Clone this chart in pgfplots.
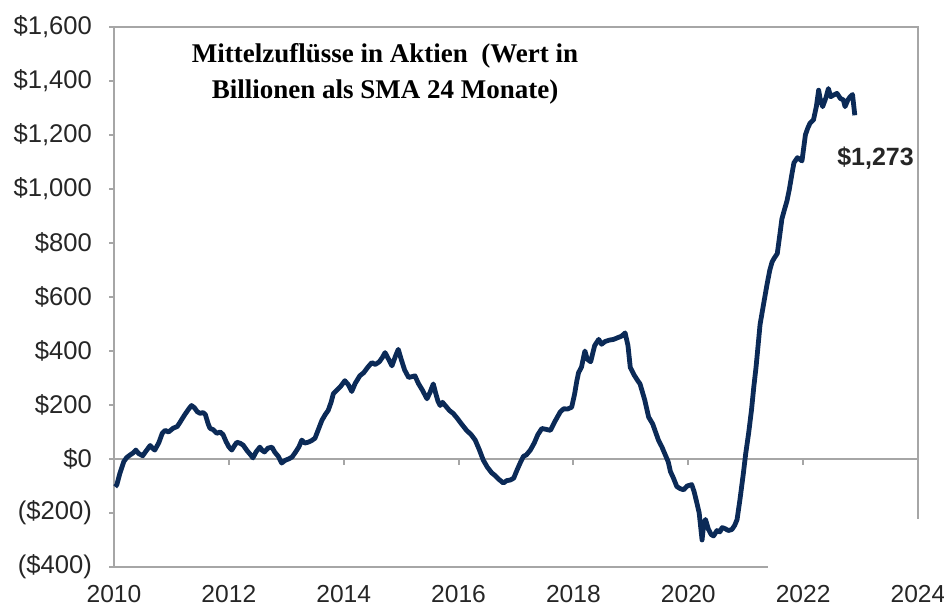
\documentclass[border=0pt]{standalone}
\usepackage{pgfplots}
\pgfplotsset{compat=1.18}
\usepackage{fontspec}
\setmainfont{Liberation Sans}
\newfontfamily\titlefont{Liberation Serif}
\definecolor{navy}{HTML}{0B2A57}
\definecolor{axgray}{HTML}{A6A6A6}
\definecolor{lblgray}{HTML}{262626}
\begin{document}
\begin{tikzpicture}
\begin{axis}[
  at={(0pt,0pt)}, anchor=south west,
  scale only axis, width=402pt, height=270pt,
  xmin=2010, xmax=2024, ymin=-400, ymax=1600,
  xtick={2010,2012,2014,2016,2018,2020,2022,2024},
  xticklabels={2010,2012,2014,2016,2018,2020,2022,2024},
  ytick={-400,-200,0,200,400,600,800,1000,1200,1400,1600},
  yticklabels={(\$400),(\$200),\$0,\$200,\$400,\$600,\$800,{\$1,000},{\$1,200},{\$1,400},{\$1,600}},
  axis line style={draw=axgray, line width=1pt},
  tick style={draw=axgray, line width=1pt},
  tickpos=left, tick align=outside, major tick length=2.5pt,
  xtick style={draw=none},
  ticklabel style={text=lblgray},
  yticklabel style={font=\fontsize{12.8}{15}\selectfont, xshift=-5pt},
  xticklabel style={font=\fontsize{12.3}{15}\selectfont, yshift=-3pt},
  clip=false,
]
\draw[axgray, line width=1pt] (axis cs:2010,0) -- (axis cs:2024,0);
\pgfplotsinvokeforeach{2012,2014,2016,2018,2020,2022,2024}{
  \draw[axgray, line width=1pt] (axis cs:#1,0) -- ++(0pt,-3pt);
}
\addplot[navy, line width=2.4pt, line join=round] coordinates {
(2010.02,-103) (2010.05,-95) (2010.10,-55) (2010.17,-10) (2010.22,5) (2010.28,15)
(2010.33,22) (2010.38,33) (2010.43,20) (2010.50,12) (2010.56,30) (2010.63,50)
(2010.67,40) (2010.71,33) (2010.78,60) (2010.84,95) (2010.89,106) (2010.95,100)
(2011.03,114) (2011.10,120) (2011.15,136) (2011.22,160) (2011.30,185) (2011.35,198)
(2011.40,190) (2011.45,175) (2011.50,169) (2011.55,172) (2011.59,165) (2011.64,130)
(2011.67,114) (2011.73,108) (2011.79,95) (2011.85,100) (2011.90,90) (2011.95,65)
(2012.00,45) (2012.05,33) (2012.10,50) (2012.14,62) (2012.20,58) (2012.25,51)
(2012.32,30) (2012.38,15) (2012.42,4) (2012.47,25) (2012.54,44) (2012.58,32)
(2012.62,26) (2012.68,40) (2012.75,44) (2012.80,25) (2012.86,10) (2012.92,-15)
(2012.98,-5) (2013.04,0) (2013.10,7) (2013.16,25) (2013.22,45) (2013.27,70)
(2013.32,59) (2013.38,62) (2013.44,68) (2013.50,77) (2013.56,110) (2013.62,143)
(2013.68,165) (2013.73,180) (2013.78,210) (2013.82,242) (2013.88,255) (2013.95,270)
(2014.02,290) (2014.08,275) (2014.14,250) (2014.20,280) (2014.28,308) (2014.35,320)
(2014.42,340) (2014.49,357) (2014.55,350) (2014.62,360) (2014.67,375) (2014.72,394)
(2014.78,370) (2014.84,345) (2014.90,380) (2014.95,406) (2015.00,370) (2015.06,330)
(2015.13,302) (2015.19,305) (2015.24,308) (2015.30,280) (2015.37,255) (2015.45,223)
(2015.50,245) (2015.56,278) (2015.60,245) (2015.64,215) (2015.68,198) (2015.72,210)
(2015.78,195) (2015.84,180) (2015.91,168) (2015.98,150) (2016.05,130) (2016.14,106)
(2016.22,90) (2016.29,70) (2016.36,35) (2016.43,-4) (2016.50,-30) (2016.58,-52)
(2016.63,-60) (2016.70,-75) (2016.78,-89) (2016.84,-80) (2016.90,-78) (2016.96,-71)
(2017.02,-40) (2017.07,-16) (2017.13,10) (2017.18,15) (2017.25,33) (2017.32,60)
(2017.38,90) (2017.45,113) (2017.52,110) (2017.60,106) (2017.68,140) (2017.77,174)
(2017.83,186) (2017.90,185) (2017.97,192) (2018.02,240) (2018.06,290) (2018.09,320)
(2018.14,340) (2018.20,400) (2018.24,370) (2018.30,360) (2018.37,420) (2018.44,443)
(2018.49,425) (2018.55,435) (2018.62,440) (2018.70,443) (2018.78,450) (2018.84,455)
(2018.90,467) (2018.95,420) (2018.99,339) (2019.06,310) (2019.12,290) (2019.16,278)
(2019.24,220) (2019.31,155) (2019.38,130) (2019.43,100) (2019.48,70) (2019.54,45)
(2019.60,15) (2019.65,-10) (2019.69,-47) (2019.74,-70) (2019.80,-102) (2019.86,-110)
(2019.92,-114) (2019.98,-100) (2020.06,-95) (2020.10,-120) (2020.15,-163) (2020.19,-200)
(2020.22,-260) (2020.24,-300) (2020.27,-240) (2020.30,-224) (2020.35,-260) (2020.40,-280)
(2020.44,-285) (2020.50,-265) (2020.55,-270) (2020.59,-254) (2020.64,-258) (2020.70,-265)
(2020.76,-261) (2020.81,-245) (2020.85,-224) (2020.90,-150) (2020.96,-52) (2021.00,20)
(2021.05,94) (2021.10,180) (2021.14,265) (2021.18,340) (2021.22,430) (2021.25,498)
(2021.30,560) (2021.37,645) (2021.42,700) (2021.46,730) (2021.50,745) (2021.55,761)
(2021.60,840) (2021.63,889) (2021.67,920) (2021.72,957) (2021.76,999) (2021.80,1050)
(2021.84,1097) (2021.90,1116) (2021.94,1110) (2021.98,1104) (2022.04,1201) (2022.08,1225)
(2022.12,1244) (2022.18,1256) (2022.23,1305) (2022.27,1366) (2022.30,1330) (2022.34,1305)
(2022.40,1340) (2022.44,1372) (2022.48,1342) (2022.55,1350) (2022.59,1354) (2022.65,1335)
(2022.70,1330) (2022.73,1305) (2022.78,1330) (2022.82,1342) (2022.86,1350) (2022.90,1273)
};
\node[font=\titlefont\bfseries\fontsize{13.5}{18}\selectfont, align=center, text=black]
  at (axis cs:2014.72,1428) {Mittelzuflüsse in Aktien\ \ (Wert in\\Billionen als SMA\ 24 Monate)};
\node[font=\bfseries\fontsize{12.5}{15}\selectfont, text=lblgray]
  at (axis cs:2023.26,1116) {\$1,273};
\coordinate (wA) at (axis cs:2021.38,-224);
\coordinate (wB) at (axis cs:2024.2,-420);
\end{axis}
\fill[white] (wA) rectangle (wB);
\pgfresetboundingbox
\useasboundingbox (-57pt,-20.5pt) rectangle (415pt,283.5pt);
\end{tikzpicture}
\end{document}
